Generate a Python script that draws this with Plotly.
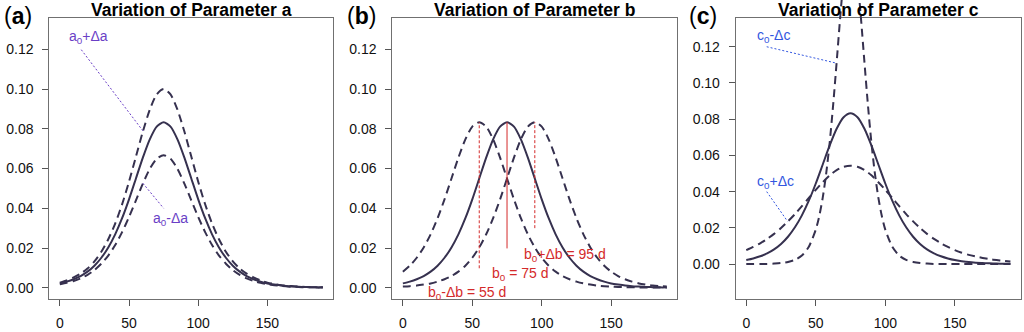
import plotly.graph_objects as go

# ---------------- data ----------------
T = [0, 5, 10, 15, 20, 25, 30, 35, 40, 45, 50, 55, 60, 65, 70, 75, 80, 85, 90, 95,
     100, 105, 110, 115, 120, 125, 130, 135, 140, 145, 150, 155, 160, 165, 170, 175,
     180, 185, 190]

BASE = [0.0022, 0.0031, 0.0043, 0.0059, 0.0081, 0.0111, 0.0151, 0.0203, 0.0269, 0.0350,
        0.0445, 0.0550, 0.0655, 0.0747, 0.0811, 0.0833, 0.0811, 0.0747, 0.0655, 0.0550,
        0.0445, 0.0350, 0.0269, 0.0203, 0.0151, 0.0111, 0.0081, 0.0059, 0.0043, 0.0031,
        0.0022, 0.0016, 0.0011, 0.0008, 0.0006, 0.0004, 0.0003, 0.0002, 0.0002]

A_PLUS = [0.0026, 0.0037, 0.0052, 0.0071, 0.0097, 0.0133, 0.0181, 0.0244, 0.0323, 0.0420,
          0.0534, 0.0660, 0.0786, 0.0896, 0.0973, 0.1000, 0.0973, 0.0896, 0.0786, 0.0660,
          0.0534, 0.0420, 0.0323, 0.0244, 0.0181, 0.0133, 0.0097, 0.0071, 0.0052, 0.0037,
          0.0026, 0.0019, 0.0013, 0.0010, 0.0007, 0.0005, 0.0004, 0.0002, 0.0002]

A_MINUS = [0.0018, 0.0025, 0.0034, 0.0047, 0.0065, 0.0089, 0.0121, 0.0162, 0.0215, 0.0280,
           0.0356, 0.0440, 0.0524, 0.0598, 0.0649, 0.0667, 0.0649, 0.0598, 0.0524, 0.0440,
           0.0356, 0.0280, 0.0215, 0.0162, 0.0121, 0.0089, 0.0065, 0.0047, 0.0034, 0.0025,
           0.0018, 0.0013, 0.0009, 0.0006, 0.0005, 0.0003, 0.0002, 0.0002, 0.0001]

B_MINUS = [0.0081, 0.0111, 0.0151, 0.0203, 0.0269, 0.0350, 0.0445, 0.0550, 0.0655, 0.0747,
           0.0811, 0.0833, 0.0811, 0.0747, 0.0655, 0.0550, 0.0445, 0.0350, 0.0269, 0.0203,
           0.0151, 0.0111, 0.0081, 0.0059, 0.0043, 0.0031, 0.0022, 0.0016, 0.0011, 0.0008,
           0.0006, 0.0004, 0.0003, 0.0002, 0.0002, 0.0001, 0.0001, 0.0001, 0.0000]

B_PLUS = [0.0006, 0.0008, 0.0011, 0.0016, 0.0022, 0.0031, 0.0043, 0.0059, 0.0081, 0.0111,
          0.0151, 0.0203, 0.0269, 0.0350, 0.0445, 0.0550, 0.0655, 0.0747, 0.0811, 0.0833,
          0.0811, 0.0747, 0.0655, 0.0550, 0.0445, 0.0350, 0.0269, 0.0203, 0.0151, 0.0111,
          0.0081, 0.0059, 0.0043, 0.0031, 0.0022, 0.0016, 0.0011, 0.0008, 0.0006]

C_PLUS = [0.0077, 0.0095, 0.0115, 0.0139, 0.0167, 0.0199, 0.0236, 0.0276, 0.0320, 0.0365,
          0.0410, 0.0452, 0.0490, 0.0519, 0.0537, 0.0543, 0.0537, 0.0519, 0.0490, 0.0452,
          0.0410, 0.0365, 0.0320, 0.0276, 0.0236, 0.0199, 0.0167, 0.0139, 0.0115, 0.0095,
          0.0077, 0.0063, 0.0051, 0.0042, 0.0034, 0.0027, 0.0022, 0.0018, 0.0014]

T_CM = [0, 5, 10, 15, 20, 25, 30, 35, 40, 45,
        50, 52.5, 55, 57.5, 60, 62.5, 65, 67.5, 70, 72.5, 75, 77.5, 80, 82.5, 85, 87.5,
        90, 92.5, 95, 97.5, 100,
        105, 110, 115, 120, 125, 130, 135, 140, 145, 150, 155, 160, 165, 170, 175, 180,
        185, 190]
C_MINUS = [0.0000, 0.0000, 0.0001, 0.0001, 0.0003, 0.0006, 0.0012, 0.0023, 0.0047, 0.0096,
           0.0190, 0.0265, 0.0367, 0.0501, 0.0671, 0.0879, 0.1114, 0.1357, 0.1576, 0.1730,
           0.1786, 0.1730, 0.1576, 0.1357, 0.1114, 0.0879, 0.0671, 0.0501, 0.0367, 0.0265,
           0.0190,
           0.0096, 0.0047, 0.0023, 0.0012, 0.0006, 0.0003, 0.0001, 0.0001, 0.0000, 0.0000,
           0.0000, 0.0000, 0.0000, 0.0000, 0.0000, 0.0000, 0.0000, 0.0000]

X_TICKS = [0, 50, 100, 150]
Y_TICKS = [0.00, 0.02, 0.04, 0.06, 0.08, 0.10, 0.12]
TITLES = ["Variation of Parameter a", "Variation of Parameter b", "Variation of Parameter c"]
LABELS = ["a", "b", "c"]

# ---------------- styling ----------------
FONT = "Liberation Sans, Arial, sans-serif"
CURVE = "#36314f"
PURPLE = "#6a3fc6"
RED = "#d42a2a"
BLUE = "#3256e0"
SOLID = dict(color=CURVE, width=2)
DASH = dict(color=CURVE, width=2, dash="8px,5px")

W, H = 1024, 332
XDOM = [[49.3 / W, 333.3 / W], [392.3 / W, 677.3 / W], [735.7 / W, 1021.0 / W]]
YDOM = [1 - 298.5 / H, 1 - 18.3 / H]
XR = [-7.6, 197.6]
YR_AB = [-0.0054, 0.1356]
YR_C = [-0.019, 0.1357]

fig = go.Figure()


def curve(x, y, line, ax, ay):
    fig.add_trace(go.Scatter(x=x, y=y, mode="lines", line=dict(shape="spline", smoothing=0.7, **line),
                             xaxis=ax, yaxis=ay, showlegend=False, hoverinfo="skip"))


# panel a
curve(T, A_PLUS, DASH, "x", "y")
curve(T, A_MINUS, DASH, "x", "y")
curve(T, BASE, SOLID, "x", "y")
# panel b
curve(T, B_MINUS, DASH, "x2", "y2")
curve(T, B_PLUS, DASH, "x2", "y2")
curve(T, BASE, SOLID, "x2", "y2")
# panel c
curve(T, C_PLUS, DASH, "x3", "y3")
curve(T, BASE, SOLID, "x3", "y3")
curve(T_CM, C_MINUS, DASH, "x4", "y4")  # overlay axis: line may run above the box


def axis_common():
    return dict(showgrid=False, zeroline=False, showline=True, mirror=True,
                linecolor="#707070", linewidth=1, ticks="outside", ticklen=6,
                tickcolor="#555555", tickwidth=1,
                tickfont=dict(family=FONT, size=14, color="#111111"))


layout = dict(width=W, height=H, margin=dict(l=0, r=0, t=0, b=0),
              paper_bgcolor="white", plot_bgcolor="rgba(0,0,0,0)", showlegend=False)
for i in range(3):
    sx = "" if i == 0 else str(i + 1)
    xa = axis_common()
    xa.update(domain=XDOM[i], range=XR, tickvals=X_TICKS, ticklabelstandoff=6,
              anchor="y" + sx)
    ya = axis_common()
    ya.update(domain=YDOM, range=YR_C if i == 2 else YR_AB, tickvals=Y_TICKS,
              tickformat=".2f", ticklabelstandoff=6, anchor="x" + sx)
    layout["xaxis" + sx] = xa
    layout["yaxis" + sx] = ya

# overlay axes for panel c (same scale, extends to top of figure)
top_c = YR_C[0] + (YR_C[1] - YR_C[0]) * (1 - YDOM[0]) / (YDOM[1] - YDOM[0])
layout["xaxis4"] = dict(domain=XDOM[2], range=XR, visible=False, anchor="y4")
layout["yaxis4"] = dict(domain=[YDOM[0], 1.0], range=[YR_C[0], top_c], visible=False, anchor="x4")

fig.update_layout(**layout)

ann = []
# titles and panel labels
for i in range(3):
    cx = (XDOM[i][0] + XDOM[i][1]) / 2
    ann.append(dict(text="<b>" + TITLES[i] + "</b>", x=cx, y=1 - 9.5 / H, xref="paper", yref="paper",
                    showarrow=False, xanchor="center", yanchor="middle",
                    font=dict(family=FONT, size=17.5, color="#000000")))
lab_x = [17.5, 361.7, 703.0]
for i in range(3):
    ann.append(dict(text="(<b>" + LABELS[i] + "</b>)", x=lab_x[i] / W, y=1 - 15.5 / H,
                    xref="paper", yref="paper", showarrow=False,
                    xanchor="center", yanchor="middle",
                    font=dict(family=FONT, size=23, color="#000000")))


def label(text, x, y, ax, ay, color):
    ann.append(dict(text=text, x=x, y=y, xref=ax, yref=ay, showarrow=False,
                    xanchor="center", yanchor="middle",
                    font=dict(family=FONT, size=14, color=color)))


label("a<sub>0</sub>+Δa", 21, 0.1262, "x", "y", PURPLE)
label("a<sub>0</sub>-Δa", 80, 0.0345, "x", "y", PURPLE)
label("b<sub>0</sub>+Δb = 95 d", 117, 0.0165, "x2", "y2", RED)
label("b<sub>0</sub> = 75 d", 84, 0.0068, "x2", "y2", RED)
label("b<sub>0</sub>-Δb = 55 d", 46, -0.0025, "x2", "y2", RED)
label("c<sub>0</sub>-Δc", 19.5, 0.1258, "x3", "y3", BLUE)
label("c<sub>0</sub>+Δc", 20.7, 0.0455, "x3", "y3", BLUE)
fig.update_layout(annotations=ann)

shapes = [
    dict(type="line", xref="x", yref="y", x0=15.5, y0=0.1198, x1=60, y1=0.0790,
         line=dict(color=PURPLE, width=1, dash="2px,2px")),
    dict(type="line", xref="x", yref="y", x0=60, y0=0.0526, x1=75, y1=0.0400,
         line=dict(color=PURPLE, width=1, dash="2px,2px")),
    dict(type="line", xref="x2", yref="y2", x0=55, y0=0.0098, x1=55, y1=0.0833,
         line=dict(color=RED, width=1, dash="3px,2px")),
    dict(type="line", xref="x2", yref="y2", x0=75, y0=0.0198, x1=75, y1=0.0833,
         line=dict(color=RED, width=1)),
    dict(type="line", xref="x2", yref="y2", x0=95, y0=0.0300, x1=95, y1=0.0833,
         line=dict(color=RED, width=1, dash="3px,2px")),
    dict(type="line", xref="x3", yref="y3", x0=14.7, y0=0.1200, x1=64.5, y1=0.1110,
         line=dict(color=BLUE, width=1, dash="2px,2px")),
    dict(type="line", xref="x3", yref="y3", x0=14.7, y0=0.0400, x1=29.7, y1=0.0236,
         line=dict(color=BLUE, width=1, dash="2px,2px")),
]
fig.update_layout(shapes=shapes)

fig.write_html("out.html")
